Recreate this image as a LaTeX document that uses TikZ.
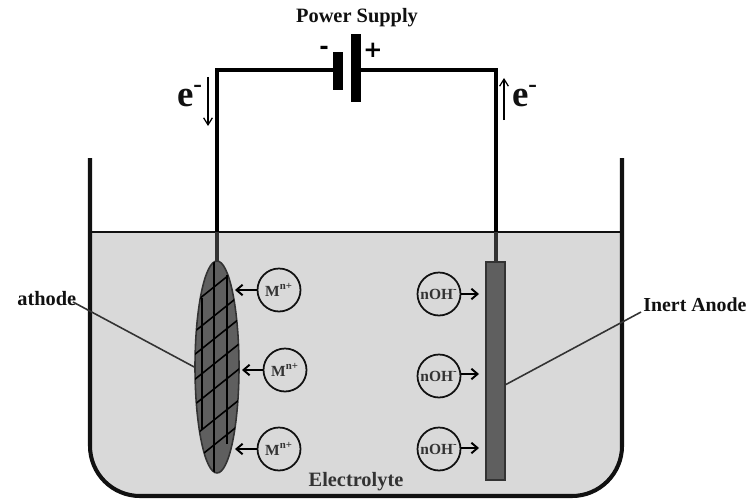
\documentclass[tikz,border=0pt]{standalone}
\usepackage{fontspec}
\setmainfont{Liberation Serif}
\newfontfamily\signfont{DejaVu Sans}
\usetikzlibrary{arrows.meta,shapes.geometric,positioning}
\definecolor{cellInk}{HTML}{111111}
\definecolor{cellLiquid}{HTML}{D9D9D9}
\definecolor{cellElectrode}{HTML}{5F5F5F}
\definecolor{cellLead}{HTML}{333333}
\tikzset{
  labeltext/.style={font=\bfseries\fontsize{11.6}{13}\selectfont,text=cellInk,inner sep=0pt},
  chargetext/.style={font=\bfseries\fontsize{21}{22}\selectfont,text=cellInk,inner sep=0pt},
  signtext/.style={font=\signfont\bfseries\fontsize{13}{13}\selectfont,text=black,inner sep=0pt},
  ioncircle/.style={draw=cellInk,circle,line width=1pt,minimum size=0.86cm,inner sep=0pt,
    font=\bfseries\fontsize{8.8}{10}\selectfont,text=cellLead},
  plate/.style={fill=black,inner sep=0pt,minimum width=0.2cm}
}
\begin{document}
\begin{tikzpicture}[x=0.02cm,y=-0.02cm,
  wire/.style={line width=2pt,draw=black},
  lead/.style={line width=2pt,draw=cellLead},
  leader/.style={line width=0.9pt,draw=cellLead},
  gridline/.style={line width=0.9pt,draw=black},
  ionarrow/.style={-{Straight Barb[length=3.5pt,width=6pt]},line width=1.1pt,draw=black},
  flow/.style={-{Straight Barb[length=4pt,width=5pt]},line width=0.7pt,draw=black}]
\useasboundingbox (0,0) rectangle (749,500);
% electrolyte and tank
\begin{scope}
\clip (90,232) rectangle (622,500);
\fill[cellLiquid,rounded corners=1cm] (90,100) -- (90,496) -- (622,496) -- (622,100) -- cycle;
\end{scope}
\draw[line width=2.3pt,draw=cellInk,rounded corners=1cm] (90,158) -- (90,496) -- (622,496) -- (622,158);
\draw[line width=1.6pt,draw=cellInk] (90,232) -- (622,232);
% battery
\node[plate,minimum height=0.76cm] (minusplate) at (338,71) {};
\node[plate,minimum height=1.36cm] (plusplate) at (356,68) {};
\node[labeltext] (supply) at (357,18) {Power Supply};
\node[signtext] (minussign) at (324,50) {-};
\node[signtext] (plussign) at (373,50) {+};
% electrodes
\coordinate (cathodetop) at (217,262);
\coordinate (anodetop) at (496,262);
\coordinate (cathodesurface) at (217,232);
\coordinate (anodesurface) at (496,232);
\draw[lead] (cathodesurface) -- (cathodetop);
\draw[lead] (anodesurface) -- (anodetop);
\draw[wire] (minusplate.west|-0,70) -| (cathodesurface);
\draw[wire] (plusplate.east|-0,70) -| (anodesurface);
\node[ellipse,draw=cellLead,fill=cellElectrode,line width=0.9pt,minimum width=0.88cm,minimum height=4.24cm,inner sep=0pt] (cathode) at (217,367) {};
\begin{scope}
\clip (217,367) ellipse[x radius=22,y radius=106];
\draw[gridline] (214,262) -- (214,473);
\draw[gridline] (202,298) -- (202,430);
\draw[gridline] (227,275) -- (227,444);
\foreach \ypos in {287,316,339,364,389,420,445}
  \draw[gridline] (194,\ypos+16) -- (244,\ypos-24);
\end{scope}
\node[rectangle,draw=cellLead,fill=cellElectrode,line width=0.7pt,minimum width=0.38cm,minimum height=4.36cm,inner sep=0pt] (anode) at (495.5,371) {};
% ions
\node[ioncircle] (mion1) at (279,290) {M\textsuperscript{n+}};
\node[ioncircle] (mion2) at (285,370) {M\textsuperscript{n+}};
\node[ioncircle] (mion3) at (279,449) {M\textsuperscript{n+}};
\node[ioncircle] (ohion1) at (439,294) {nOH\textsuperscript{-}};
\node[ioncircle] (ohion2) at (439,376) {nOH\textsuperscript{-}};
\node[ioncircle] (ohion3) at (439,449) {nOH\textsuperscript{-}};
\coordinate (mtip1) at (235,290);
\coordinate (mtip2) at (242,370);
\coordinate (mtip3) at (235,449);
\coordinate (ohtip1) at (479,294);
\coordinate (ohtip2) at (479,374);
\coordinate (ohtip3) at (479,448);
\foreach \i in {1,2,3} {
  \draw[ionarrow] (mion\i) -- (mtip\i);
  \draw[ionarrow] (ohion\i.east|-ohtip\i) -- (ohtip\i);
}
% electron flow
\node[chargetext] (eleft) at (190,96) {e\textsuperscript{-}};
\node[chargetext] (eright) at (525,96) {e\textsuperscript{-}};
\coordinate (eleftstart) at (208,77);
\coordinate (eleftend) at (208,126);
\coordinate (erightstart) at (504,120);
\coordinate (erightend) at (504,78);
\draw[flow] (eleftstart) -- (eleftend);
\draw[flow] (erightstart) -- (erightend);
% labels
\node[labeltext,anchor=west] (cathodelabel) at (17,299) {athode};
\node[labeltext,anchor=west,font=\bfseries\fontsize{11.3}{13}\selectfont] (anodelabel) at (643,305) {Inert Anode};
\node[labeltext,text=cellLead] (electrolyte) at (356,482) {Electrolyte};
\coordinate (cathodeleader) at (73,302);
\coordinate (anodeleader) at (641,312);
\draw[leader] (cathodeleader) -- (cathode.west);
\draw[leader] (anodeleader) -- (505,385);
\end{tikzpicture}
\end{document}
